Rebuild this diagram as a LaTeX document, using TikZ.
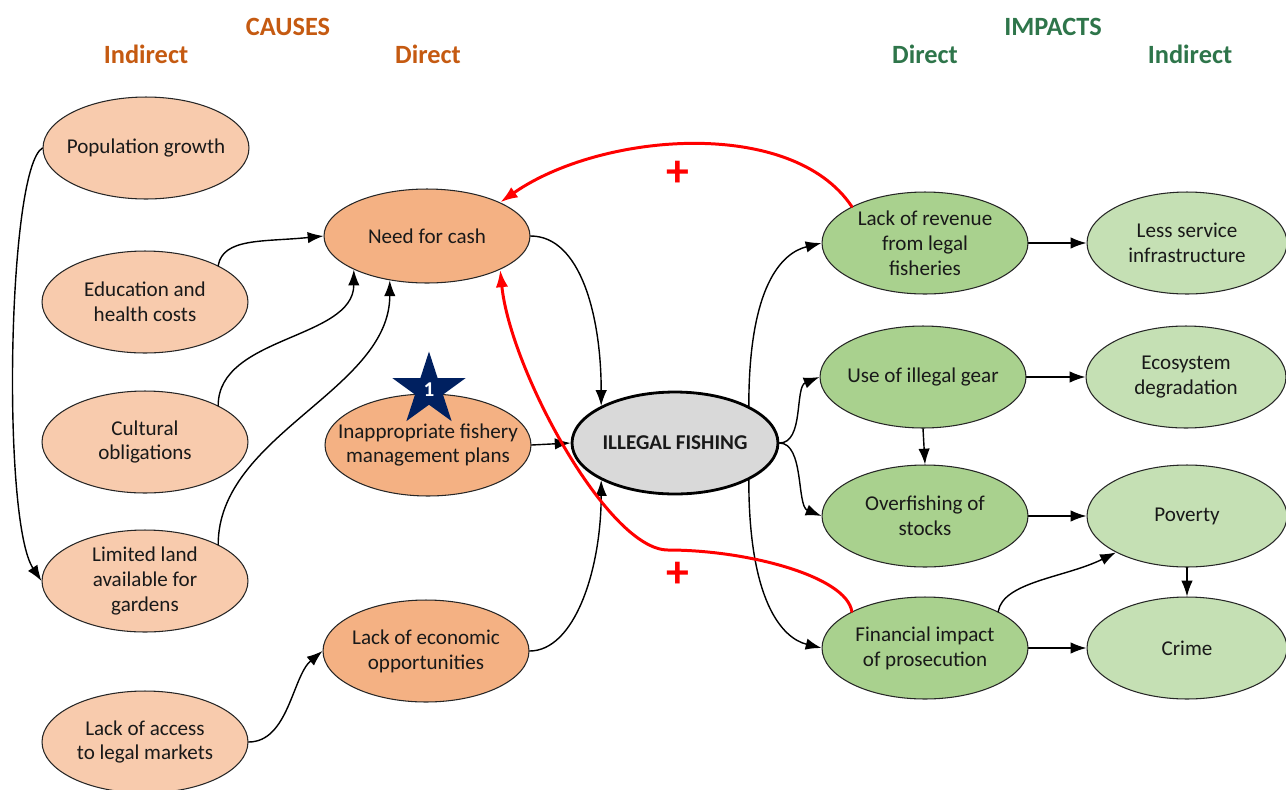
\documentclass[tikz,border=0pt]{standalone}
\usepackage{fontspec}
\setmainfont{Carlito}
\usetikzlibrary{shapes.geometric,arrows.meta}

\definecolor{causeind}{HTML}{F8CBAD}
\definecolor{causedir}{HTML}{F4B183}
\definecolor{impdir}{HTML}{A9D18E}
\definecolor{impind}{HTML}{C5E0B4}
\definecolor{coregray}{HTML}{D9D9D9}
\definecolor{causehead}{RGB}{197,90,17}
\definecolor{imphead}{RGB}{46,117,74}
\definecolor{badgeblue}{HTML}{002060}

\begin{document}
\begin{tikzpicture}[x=0.02cm,y=-0.02cm,line cap=round,line join=round,
  bubble/.style={ellipse,draw=black!85,line width=0.6pt,minimum width=4.12cm,
    minimum height=2.04cm,inner xsep=-0.5cm,inner ysep=0pt,align=center,
    font=\fontsize{12}{14.2}\selectfont,text=black!90},
  head/.style={font=\fontsize{15}{18}\selectfont\bfseries},
  link/.style={line width=0.8pt,-{Latex[length=9pt,width=6.5pt]}},
  feedback/.style={red,line width=1.7pt,-{Latex[length=10pt,width=7pt]}},
  plus/.style={red,font=\fontsize{26}{28}\selectfont\bfseries}]
\useasboundingbox (0,0) rectangle (1286,789);

% ---- headings ----
\node[head,text=causehead] (causes) at (288,27) {CAUSES};
\node[head,text=causehead] (cind) at (146,54) {Indirect};
\node[head,text=causehead] (cdir) at (428,54) {Direct};
\node[head,text=imphead] (impacts) at (1053,27) {IMPACTS};
\node[head,text=imphead] (idir) at (925,54) {Direct};
\node[head,text=imphead] (iind) at (1190,54) {Indirect};

% ---- indirect causes ----
\node[bubble,fill=causeind] (pop) at (146,148) {Population growth};
\node[bubble,fill=causeind] (edu) at (145,302) {Education and\\health costs};
\node[bubble,fill=causeind] (cult) at (145,442) {Cultural\\obligations};
\node[bubble,fill=causeind] (land) at (145,581) {Limited land\\available for\\gardens};
\node[bubble,fill=causeind] (access) at (145,742) {Lack of access\\to legal markets};

% ---- direct causes ----
\node[bubble,fill=causedir,minimum height=1.88cm] (cash) at (427,236) {Need for cash};
\node[bubble,fill=causedir] (plans) at (428,445) {Inappropriate fishery\\management plans};
\node[bubble,fill=causedir] (econ) at (426,651) {Lack of economic\\opportunities};
\node[star,star points=5,star point ratio=2.618,fill=badgeblue,minimum size=1.54cm,
  inner sep=0pt,text=white,font=\fontsize{12}{14}\selectfont\bfseries] (badge) at (429,390) {1};

% ---- centre ----
\node[bubble,fill=coregray,line width=1.6pt,draw=black,
  font=\fontsize{12}{14.2}\selectfont\bfseries] (illegal) at (675,443) {ILLEGAL FISHING};

% ---- direct impacts ----
\node[bubble,fill=impdir] (revenue) at (925,243) {Lack of revenue\\from legal\\fisheries};
\node[bubble,fill=impdir] (gear) at (923,377) {Use of illegal gear};
\node[bubble,fill=impdir] (over) at (925,516) {Overfishing of\\stocks};
\node[bubble,fill=impdir] (fin) at (925,648) {Financial impact\\of prosecution};

% ---- indirect impacts ----
\node[bubble,fill=impind,minimum width=4.0cm] (infra) at (1187,243) {Less service\\infrastructure};
\node[bubble,fill=impind,minimum width=4.0cm] (eco) at (1186,377) {Ecosystem\\degradation};
\node[bubble,fill=impind,minimum width=4.0cm] (poverty) at (1187,516) {Poverty};
\node[bubble,fill=impind,minimum width=4.0cm] (crime) at (1187,648) {Crime};

% ---- cause links ----
\draw[link] (pop.west) .. controls +(-35,20) and +(-40,-60) .. (land.west);
\draw[link] (edu.north east) .. controls +(5,-28) and +(-60,6) .. (cash.west);
\draw[link] (cult.north east) .. controls +(0,-70) and +(0,70) .. (cash.south west);
\draw[link] (land.north east) .. controls +(0,-110) and +(0,110) .. (cash.230);
\draw[link] (access.east) .. controls +(40,0) and +(-30,25) .. (econ.west);
\draw[link] (cash.east) .. controls +(50,0) and +(0,-90) .. (illegal.north west);
\draw[link] (plans.east) -- (illegal.west);
\draw[link] (econ.east) .. controls +(45,0) and +(0,90) .. (illegal.south west);

% ---- impact links ----
\draw[link] (illegal.north east) .. controls +(0,-120) and +(-40,10) .. (revenue.west);
\draw[link] (illegal.east) .. controls +(25,0) and +(-25,10) .. (gear.west);
\draw[link] (illegal.east) .. controls +(25,0) and +(-25,-10) .. (over.west);
\draw[link] (illegal.south east) .. controls +(0,120) and +(-40,-10) .. (fin.west);
\draw[link] (revenue.east) -- (infra.west);
\draw[link] (gear.east) -- (eco.west);
\draw[link] (gear.south) -- (over.north);
\draw[link] (over.east) -- (poverty.west);
\draw[link] (fin.east) -- (crime.west);
\draw[link] (fin.north east) .. controls +(5,-30) and +(-50,25) .. (poverty.south west);
\draw[link] (poverty.south) -- (crime.north);

% ---- feedback loops ----
\coordinate (bend) at (668,550);
\draw[feedback] (revenue.north west) .. controls +(-60,-90) and +(100,-70) .. (cash.north east);
\draw[feedback] (fin.north west) .. controls +(-5,-35) and +(80,0) .. (bend)
  .. controls +(-60,0) and +(10,100) .. (cash.south east);
\node[plus] (plusa) at (678,174) {+};
\node[plus] (plusb) at (678,575) {+};
\end{tikzpicture}
\end{document}
